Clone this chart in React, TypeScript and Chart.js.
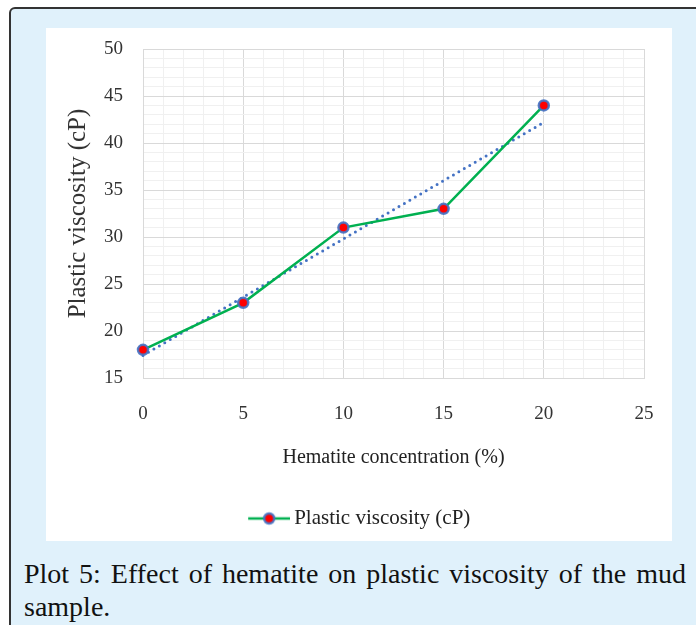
import { useEffect, useRef } from 'react';
import { Chart, registerables } from 'chart.js';

Chart.register(...registerables);

const concentrations = [0, 5, 10, 15, 20];
const viscosity = [18, 23, 31, 33, 44];
const trendX = [0, 20];
const trendY = [17.4, 42.2];
const xTickLabels = [0, 5, 10, 15, 20, 25];
const yTickLabels = [15, 20, 25, 30, 35, 40, 45, 50];

const FAMILY = "'Liberation Serif', 'Times New Roman', serif";
const MAJOR = '#d9d9d9';
const MINOR = '#f0f0f0';

export default function App() {
  const ref = useRef<HTMLCanvasElement>(null);

  useEffect(() => {
    // legend icon: transparent space on the left, line + marker on the right
    const ICON_W = 77;
    const icon = document.createElement('canvas');
    icon.width = ICON_W;
    icon.height = 16;
    const g = icon.getContext('2d')!;
    const x0 = ICON_W - 42;
    g.strokeStyle = '#00b050';
    g.lineWidth = 2.5;
    g.beginPath();
    g.moveTo(x0, 8);
    g.lineTo(ICON_W, 8);
    g.stroke();
    g.beginPath();
    g.arc(x0 + 21, 8, 5, 0, Math.PI * 2);
    g.fillStyle = '#ff0000';
    g.fill();
    g.lineWidth = 2.5;
    g.strokeStyle = 'rgba(68,114,196,0.9)';
    g.stroke();

    const gridColor = (c: any) =>
      c.tick && Math.round(c.tick.value) % 5 === 0 ? MAJOR : MINOR;

    const chart = new Chart(ref.current!, {
      type: 'line',
      data: {
        datasets: [
          {
            label: 'Plastic viscosity (cP)',
            data: concentrations.map((x, i) => ({ x, y: viscosity[i] })),
            borderColor: '#00b050',
            borderWidth: 2.5,
            pointRadius: 5,
            pointBackgroundColor: '#ff0000',
            pointBorderColor: 'rgba(68,114,196,0.9)',
            pointBorderWidth: 2.5,
            tension: 0,
            fill: false,
            clip: false as any,
          },
          {
            label: 'Linear trend',
            data: trendX.map((x, i) => ({ x, y: trendY[i] })),
            borderColor: '#4472c4',
            borderWidth: 3,
            borderDash: [0, 6.3],
            borderCapStyle: 'round',
            pointRadius: 0,
            tension: 0,
            fill: false,
            clip: false as any,
          },
        ],
      },
      options: {
        responsive: false,
        animation: false,
        layout: { padding: { left: 0, right: 28, top: 21, bottom: 2 } },
        plugins: {
          legend: {
            position: 'bottom',
            labels: {
              usePointStyle: true,
              pointStyle: icon as any,
              pointStyleWidth: 64,
              padding: 10,
              color: '#222',
              font: { family: FAMILY, size: 21 },
              filter: (item: any) => item.datasetIndex === 0,
            },
          },
          tooltip: { enabled: false },
        },
        scales: {
          x: {
            type: 'linear',
            position: 'bottom',
            min: xTickLabels[0],
            max: xTickLabels[xTickLabels.length - 1],
            afterFit: (s: any) => {
              s.height = 120;
              s.paddingLeft = 0;
              s.paddingRight = 0;
            },
            ticks: {
              stepSize: 1,
              autoSkip: false,
              maxRotation: 0,
              padding: 25,
              color: '#333',
              font: { family: FAMILY, size: 19 },
              callback: (v: any) => (xTickLabels.includes(Number(v)) ? String(v) : ''),
            },
            grid: { color: gridColor, lineWidth: 1, drawTicks: false },
            border: { color: MAJOR },
            title: {
              display: true,
              text: 'Hematite concentration (%)',
              color: '#222',
              font: { family: FAMILY, size: 20 },
              padding: { top: 0, bottom: 28 },
            },
          },
          y: {
            type: 'linear',
            min: yTickLabels[0],
            max: yTickLabels[yTickLabels.length - 1],
            afterFit: (s: any) => {
              s.width = 97;
              s.paddingTop = 0;
              s.paddingBottom = 0;
            },
            ticks: {
              stepSize: 1,
              autoSkip: false,
              padding: 20,
              color: '#333',
              font: { family: FAMILY, size: 19 },
              callback: (v: any) => (yTickLabels.includes(Number(v)) ? String(v) : ''),
            },
            grid: { color: gridColor, lineWidth: 1, drawTicks: false },
            border: { color: MAJOR },
            title: {
              display: true,
              text: 'Plastic viscosity (cP)',
              color: '#333',
              font: { family: FAMILY, size: 25 },
              padding: { top: 17, bottom: 0 },
            },
          },
        },
      },
    });
    return () => chart.destroy();
  }, []);

  return (
    <div
      style={{
        position: 'fixed',
        left: 0,
        top: 0,
        width: 696,
        height: 625,
        overflow: 'hidden',
        background: '#fff',
        fontFamily: FAMILY,
      }}
    >
      <div
        style={{
          position: 'absolute',
          left: 9,
          top: 7,
          width: 730,
          height: 680,
          boxSizing: 'border-box',
          border: '2px solid #333',
          borderRadius: 6,
          background: '#e0f1fb',
        }}
      />
      <div
        style={{
          position: 'absolute',
          left: 46,
          top: 28,
          width: 626,
          height: 513,
          background: '#fff',
        }}
      >
        <canvas ref={ref} width={626} height={513} style={{ display: 'block', width: 626, height: 513 }} />
      </div>
      <div
        style={{
          position: 'absolute',
          left: 24,
          top: 557,
          width: 662,
          fontSize: 28,
          lineHeight: '33px',
          color: '#111',
        }}
      >
        <div style={{ textAlign: 'justify', textAlignLast: 'justify' }}>
          Plot 5: Effect of hematite on plastic viscosity of the mud
        </div>
        <div>sample.</div>
      </div>
    </div>
  );
}
